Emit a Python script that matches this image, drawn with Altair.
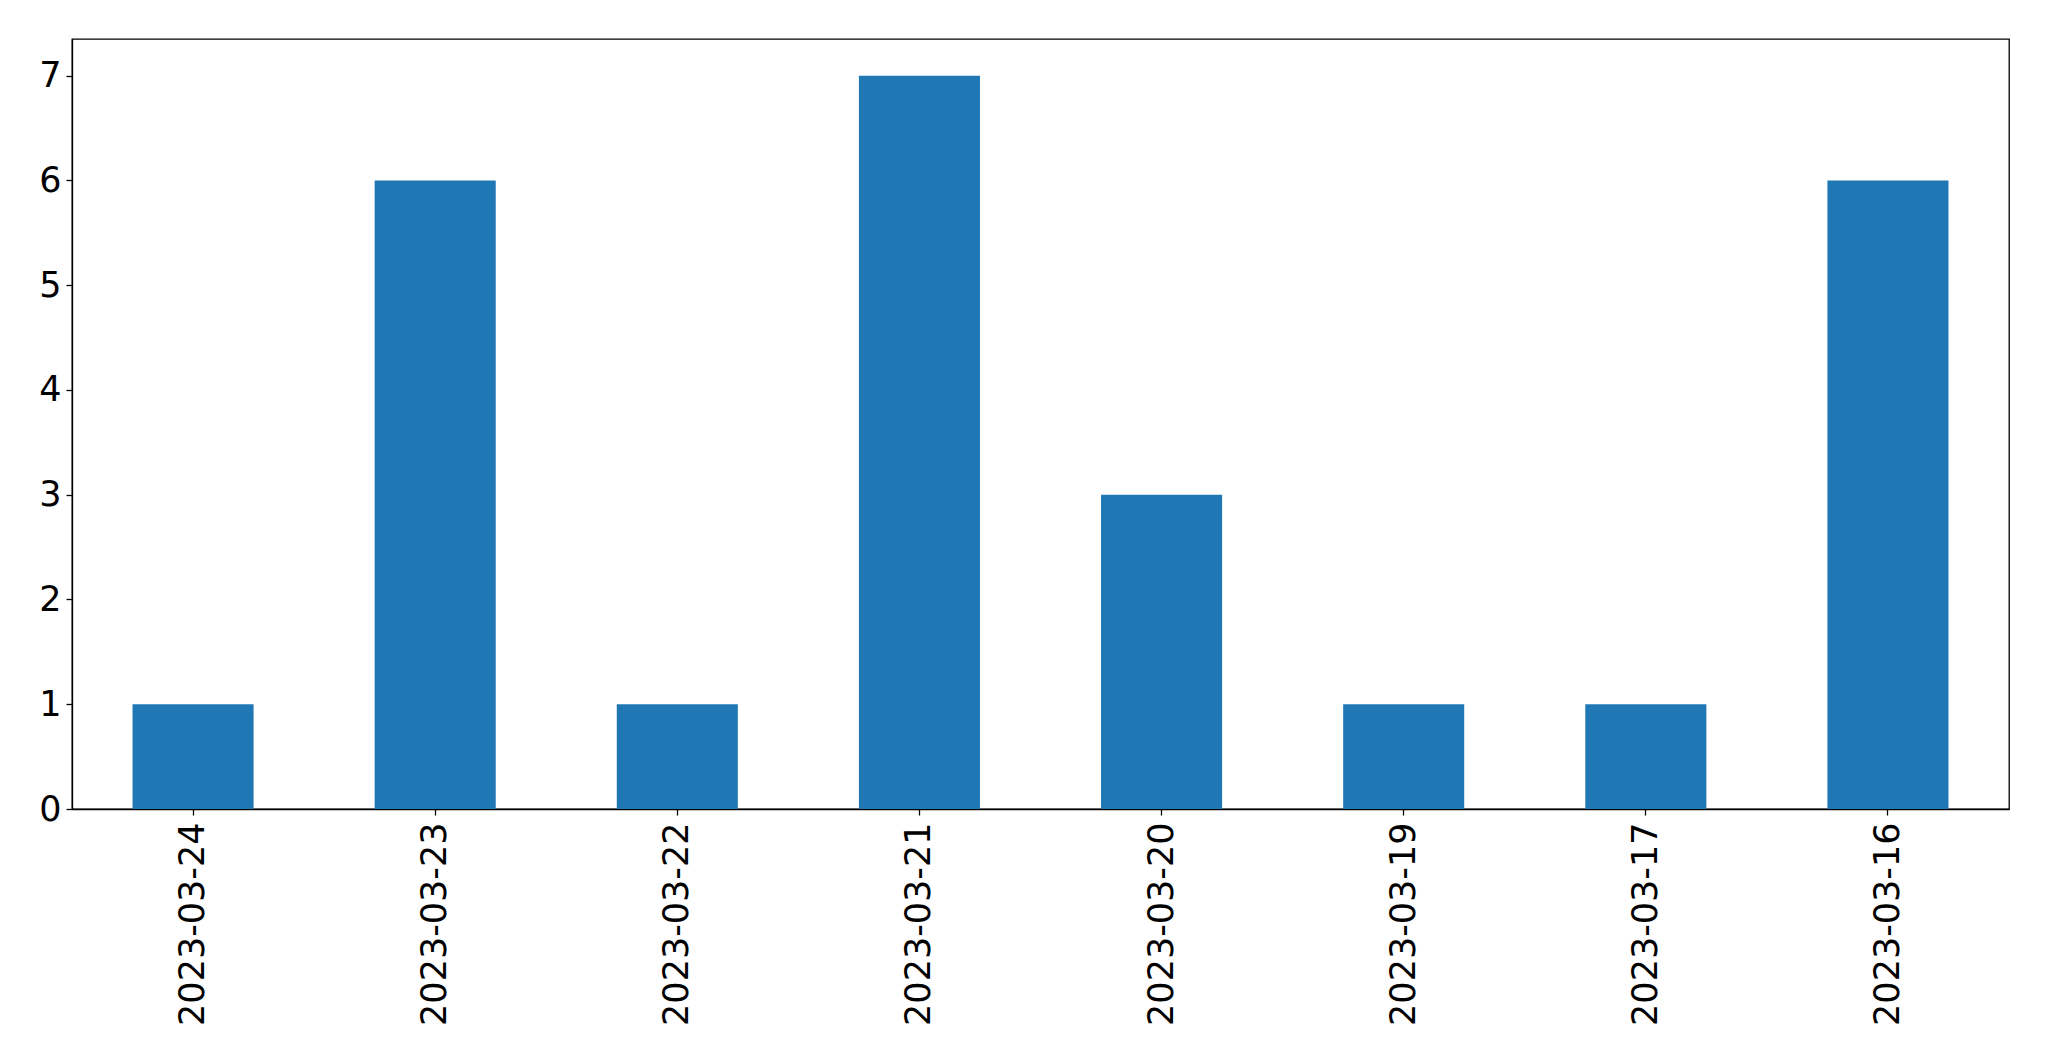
import altair as alt
import pandas as pd

dates = ["2023-03-24", "2023-03-23", "2023-03-22", "2023-03-21",
         "2023-03-20", "2023-03-19", "2023-03-17", "2023-03-16"]
counts = [1, 6, 1, 7, 3, 1, 1, 6]

df = pd.DataFrame({"date": dates, "count": counts})

chart = alt.Chart(df).mark_bar(color="#1f77b4").encode(
    x=alt.X("date:N", sort=None, title=None,
            scale=alt.Scale(paddingInner=0.5, paddingOuter=0.25),
            axis=alt.Axis(labelAngle=270, labelFontSize=35, labelFont="DejaVu Sans",
                          labelColor="black", tickColor="black", domainColor="black",
                          tickSize=6, tickWidth=1.3, domainWidth=1.3, labelPadding=7,
                          labelLimit=1000)),
    y=alt.Y("count:Q", title=None,
            scale=alt.Scale(domain=[0, 7.35], nice=False, zero=True),
            axis=alt.Axis(values=[0, 1, 2, 3, 4, 5, 6, 7], grid=False,
                          labelFontSize=35, labelFont="DejaVu Sans", labelColor="black",
                          tickColor="black", domainColor="black", tickSize=6,
                          tickWidth=1.3, domainWidth=1.3, labelPadding=5)),
).properties(
    width=1937, height=770,
    autosize=alt.AutoSizeParams(type="none"),
    padding={"left": 64, "top": 31, "right": 30, "bottom": 240},
).configure_view(
    stroke="black", strokeWidth=1.3
)

chart.save("out.html", embed_options={"renderer": "svg", "actions": False})
